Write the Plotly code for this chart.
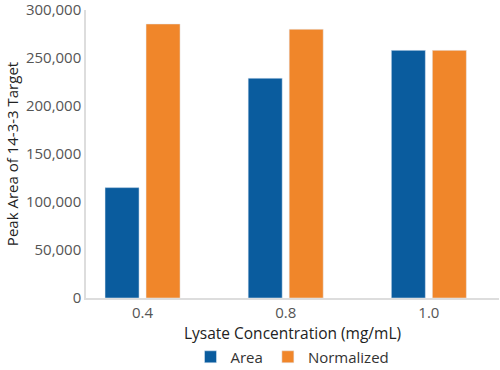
import plotly.graph_objects as go

categories = ["0.4", "0.8", "1.0"]
area_values = [115000, 229000, 258000]
normalized_values = [285500, 280000, 258000]
y_tick_values = [0, 50000, 100000, 150000, 200000, 250000, 300000]
y_tick_labels = ["0", "50,000", "100,000", "150,000", "200,000", "250,000", "300,000"]

FONT = "Open Sans"

fig = go.Figure()
fig.add_trace(go.Bar(name="Area", x=categories, y=area_values, marker_color="#0a5c9e"))
fig.add_trace(go.Bar(name="Normalized", x=categories, y=normalized_values, marker_color="#f0862a"))

fig.update_layout(
    width=500, height=370,
    margin=dict(l=86, r=1, t=10, b=72, autoexpand=False),
    barmode="group", bargap=0.427, bargroupgap=0.17,
    plot_bgcolor="white", paper_bgcolor="white",
    font=dict(family=FONT, size=15, color="#222"),
    legend=dict(orientation="h", x=0.50, xanchor="center", y=-0.205, yanchor="middle",
                font=dict(size=15, color="#333"), itemwidth=30, tracegroupgap=0),
    showlegend=True,
)
fig.update_xaxes(
    type="category", range=[-0.395, 2.49], automargin=False,
    showline=True, linecolor="#dddddd", linewidth=1.5,
    showgrid=False, ticks="",
    tickfont=dict(size=15, color="#555"),
    title=dict(text="Lysate Concentration (mg/mL)", font=dict(size=15.5, color="#222"), standoff=2),
)
fig.update_yaxes(
    range=[0, 300050], automargin=False, ticklabeloverflow="allow",
    tickvals=y_tick_values, ticktext=y_tick_labels,
    showline=True, linecolor="#dddddd", linewidth=1.5,
    showgrid=False, zeroline=False, ticks="",
    tickfont=dict(size=15, color="#555"),
    title=dict(text="Peak Area of 14-3-3 Target", font=dict(size=15, color="#222"), standoff=4),
)

fig.write_html("out.html", config={"displayModeBar": False},
               post_script="document.body.style.margin='0';")
